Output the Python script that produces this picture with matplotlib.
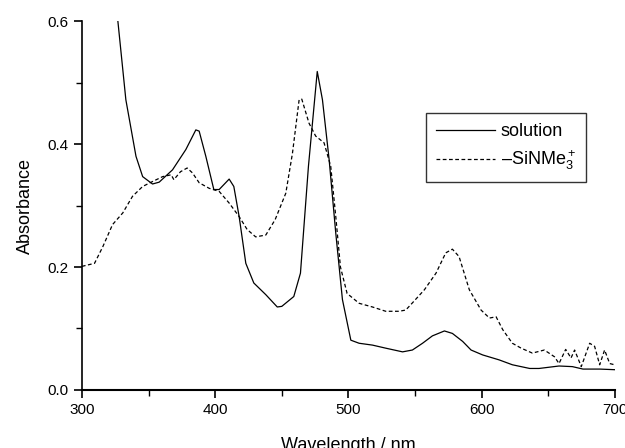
import matplotlib
matplotlib.use("Agg")
import matplotlib.pyplot as plt
from matplotlib.ticker import MultipleLocator

plt.rcParams['font.family'] = ['Liberation Sans', 'DejaVu Sans']
plt.rcParams['mathtext.fontset'] = 'custom'
plt.rcParams['mathtext.rm'] = 'Liberation Sans'

sol_x = [327, 333, 340.6, 345.6, 353, 358, 368, 378, 385.5, 388, 393, 399, 403, 410.5, 414, 418, 423, 429, 438,
         446.6, 450, 459, 464, 470, 476.6, 480.5, 485.5, 490.5, 495.5, 501.8, 508, 518, 528, 540.6, 548, 555.6,
         563, 572, 578, 585.7, 592, 600.7, 613, 623, 636, 643, 658, 668, 676, 688.5, 699.7]
sol_y = [0.60, 0.472, 0.38, 0.347, 0.335, 0.338, 0.358, 0.391, 0.423, 0.421, 0.38, 0.326, 0.326, 0.343, 0.331,
         0.282, 0.206, 0.174, 0.155, 0.135, 0.136, 0.152, 0.19, 0.364, 0.518, 0.472, 0.375, 0.255, 0.147, 0.081,
         0.076, 0.073, 0.068, 0.062, 0.065, 0.076, 0.088, 0.096, 0.092, 0.079, 0.065, 0.057, 0.049, 0.041, 0.035,
         0.035, 0.039, 0.038, 0.034, 0.034, 0.033]

sin_x = [300, 309.5, 315.7, 323, 330.7, 338, 345.6, 353, 360.6, 367, 369, 374, 379, 383, 388, 395.5, 403, 410.5,
         418, 424, 430.4, 438, 445, 453, 458, 463, 465, 470.4, 475.4, 481.7, 486.7, 490.5, 494, 499, 508, 518, 528,
         538, 543, 549, 557, 565.7, 573, 578, 583, 590.7, 599.5, 605.8, 610.8, 615.8, 623, 629.6, 638, 647, 654.6,
         658, 663, 667, 669.7, 674.7, 681, 684.7, 688.5, 692.2, 696, 699.7]
sin_y = [0.201, 0.206, 0.233, 0.269, 0.288, 0.315, 0.331, 0.339, 0.347, 0.35, 0.342, 0.355, 0.361, 0.353, 0.337,
         0.328, 0.323, 0.304, 0.282, 0.261, 0.249, 0.252, 0.277, 0.32, 0.385, 0.472, 0.473, 0.434, 0.413, 0.402,
         0.364, 0.282, 0.2, 0.157, 0.141, 0.135, 0.128, 0.128, 0.13, 0.144, 0.163, 0.19, 0.223, 0.229, 0.217,
         0.163, 0.13, 0.117, 0.119, 0.098, 0.076, 0.068, 0.06, 0.065, 0.054, 0.043, 0.066, 0.052, 0.065, 0.038,
         0.076, 0.071, 0.041, 0.065, 0.043, 0.041]

labels = ['solution', r'–SiNMe$_3^+$']

fig = plt.figure(figsize=(6.25, 4.48), dpi=100)
ax = fig.add_axes([0.131, 0.1295, 0.853, 0.8235])
ax.plot(sol_x, sol_y, color='black', lw=0.9, label=labels[0])
ax.plot(sin_x, sin_y, color='black', lw=0.9, linestyle=(0, (3, 2)), label=labels[1])

ax.set_xlim(300, 700)
ax.set_ylim(0, 0.6)
ax.xaxis.set_major_locator(MultipleLocator(100))
ax.xaxis.set_minor_locator(MultipleLocator(50))
ax.yaxis.set_major_locator(MultipleLocator(0.2))
ax.yaxis.set_minor_locator(MultipleLocator(0.1))
ax.yaxis.set_major_formatter(plt.FuncFormatter(lambda v, p: f'{v:.1f}'))
for s in ['top', 'right']:
    ax.spines[s].set_visible(False)
ax.spines['left'].set_linewidth(1.2)
ax.spines['bottom'].set_linewidth(1.5)
ax.tick_params(which='major', direction='out', length=6, width=1.2, labelsize=11)
ax.tick_params(which='minor', direction='out', length=4, width=1.0)
ax.set_xlabel('Wavelength / nm', fontsize=13, labelpad=14)
ax.set_ylabel('Absorbance', fontsize=13, labelpad=10)

leg = ax.legend(loc='upper left', bbox_to_anchor=(0.645, 0.75), borderaxespad=0, fontsize=13, frameon=True,
                fancybox=False, edgecolor='black', handlelength=3.3, handletextpad=0.3, borderpad=0.55,
                labelspacing=0.45)
leg.get_frame().set_linewidth(1.0)

fig.savefig('out.png', dpi=100)
